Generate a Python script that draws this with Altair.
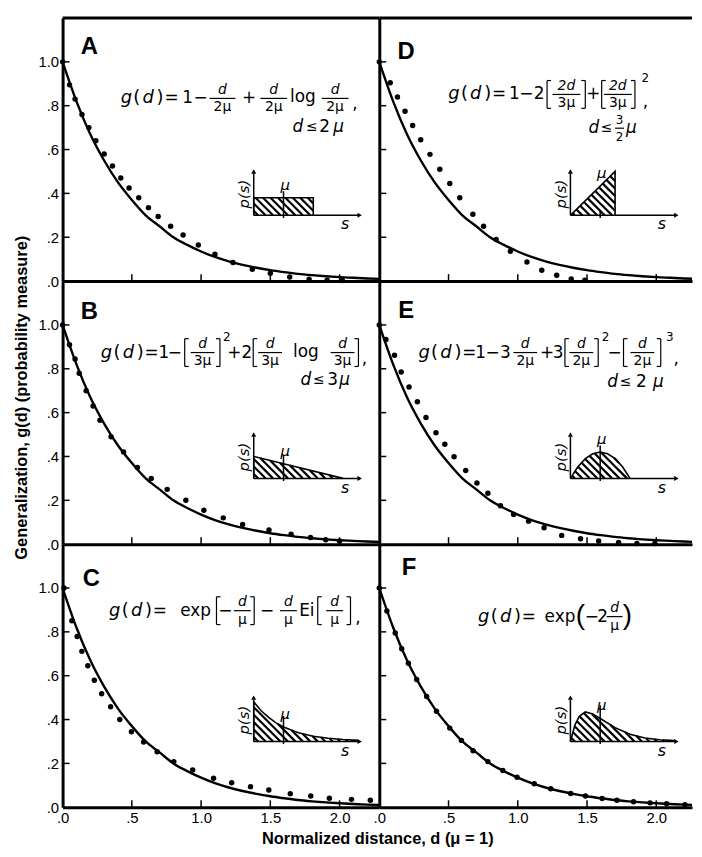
import altair as alt
import numpy as np
import pandas as pd

# ---------------- data ----------------
CURVE_D = [0.0, 0.1, 0.2, 0.3, 0.4, 0.5, 0.6, 0.7, 0.8, 0.9, 1.0, 1.1, 1.2, 1.3, 1.4, 1.5, 1.6, 1.7, 1.8, 1.9, 2.0, 2.1, 2.2, 2.3]
CURVE_G = [1.00, 0.82, 0.67, 0.55, 0.45, 0.37, 0.30, 0.25, 0.20, 0.165, 0.135, 0.11, 0.09, 0.074, 0.061, 0.05, 0.041, 0.033, 0.027, 0.022, 0.018, 0.015, 0.012, 0.010]

A_D = [0.0, 0.05, 0.09, 0.14, 0.19, 0.24, 0.30, 0.36, 0.42, 0.48, 0.55, 0.62, 0.69, 0.78, 0.87, 0.98, 1.10, 1.23, 1.37, 1.50, 1.64, 1.78, 1.91, 2.02]
A_G = [1.0, 0.895, 0.83, 0.76, 0.70, 0.64, 0.58, 0.525, 0.47, 0.425, 0.38, 0.335, 0.295, 0.25, 0.21, 0.165, 0.122, 0.085, 0.054, 0.036, 0.019, 0.009, 0.004, 0.003]

B_D = [0.0, 0.05, 0.09, 0.12, 0.17, 0.22, 0.27, 0.35, 0.44, 0.54, 0.64, 0.755, 0.89, 1.02, 1.16, 1.30, 1.49, 1.65, 1.79, 1.90, 2.00]
B_G = [1.0, 0.91, 0.845, 0.78, 0.70, 0.63, 0.565, 0.49, 0.42, 0.35, 0.30, 0.25, 0.20, 0.155, 0.12, 0.09, 0.065, 0.045, 0.03, 0.02, 0.015]

C_D = [0.01, 0.067, 0.105, 0.139, 0.182, 0.229, 0.282, 0.347, 0.413, 0.497, 0.585, 0.683, 0.803, 0.939, 1.09, 1.221, 1.357, 1.489, 1.644, 1.792, 1.926, 2.086, 2.222]
C_G = [1.0, 0.851, 0.779, 0.711, 0.645, 0.579, 0.518, 0.458, 0.40, 0.344, 0.298, 0.253, 0.208, 0.17, 0.132, 0.112, 0.094, 0.079, 0.062, 0.051, 0.041, 0.036, 0.032]

D_D = [0.0, 0.079, 0.131, 0.186, 0.241, 0.299, 0.366, 0.437, 0.509, 0.581, 0.676, 0.753, 0.844, 0.946, 1.066, 1.173, 1.281, 1.386, 1.484]
D_G = [1.0, 0.905, 0.84, 0.775, 0.71, 0.645, 0.578, 0.51, 0.445, 0.38, 0.305, 0.25, 0.19, 0.136, 0.087, 0.049, 0.027, 0.01, 0.004]

E_D = [0.0, 0.048, 0.11, 0.158, 0.215, 0.275, 0.337, 0.409, 0.473, 0.54, 0.624, 0.705, 0.784, 0.875, 0.97, 1.078, 1.19, 1.317, 1.453, 1.584, 1.728, 1.86, 1.99]
E_G = [1.0, 0.934, 0.862, 0.785, 0.717, 0.65, 0.578, 0.508, 0.456, 0.399, 0.336, 0.279, 0.232, 0.175, 0.135, 0.105, 0.075, 0.04, 0.025, 0.015, 0.008, 0.003, 0.003]

F_D = [0.0, 0.055, 0.115, 0.162, 0.21, 0.27, 0.342, 0.413, 0.509, 0.593, 0.677, 0.784, 0.892, 0.995, 1.119, 1.238, 1.382, 1.489, 1.609, 1.716, 1.836, 1.955, 2.075, 2.207]
F_G = [1.0, 0.895, 0.795, 0.723, 0.657, 0.583, 0.505, 0.438, 0.361, 0.305, 0.258, 0.208, 0.168, 0.137, 0.107, 0.084, 0.063, 0.051, 0.04, 0.032, 0.025, 0.02, 0.016, 0.012]

# inset distributions p(s): s in units of mu, heights in g-units
A_S = [0, 2];               A_P = [0.08, 0.08]
B_S = [0, 3];               B_P = [0.10, 0.0]
C_S = [0, 0.25, 0.5, 0.75, 1, 1.5, 2, 2.5, 3, 3.5]
C_P = [0.18, 0.14, 0.11, 0.085, 0.066, 0.04, 0.024, 0.015, 0.009, 0.005]
D_S = [0, 1.5];             D_P = [0.0, 0.20]
E_S = [0, 0.25, 0.5, 0.75, 1, 1.25, 1.5, 1.75, 2]
E_P = [0, 0.053, 0.09, 0.112, 0.12, 0.112, 0.09, 0.053, 0]
F_S = [0, 0.15, 0.3, 0.5, 0.75, 1, 1.5, 2, 2.5, 3, 3.5]
F_P = [0, 0.075, 0.115, 0.135, 0.125, 0.105, 0.063, 0.033, 0.016, 0.008, 0.004]

TICK_X = [0.5, 1.0, 1.5, 2.0]
TICK_Y = [0.2, 0.4, 0.6, 0.8, 1.0]
X_LABEL_VALUES = [0, 0.5, 1.0, 1.5, 2.0]
Y_LABEL_VALUES = [0, 0.2, 0.4, 0.6, 0.8, 1.0]
X_TITLE = "Normalized distance, d (\u03bc = 1)"
Y_TITLE = "Generalization, g(d) (probability measure)"

# ---------------- geometry / style ----------------
PXD = 139.5
H = 265
YMAX = 1.2
PXG = H / YMAX
W_LEFT = 319
W_RIGHT = 315
MU_D = 0.215
INSET_OX, INSET_OY = 1.38, 0.30
YS = alt.Scale(domain=[0, YMAX], nice=False, zero=False)
LABEL_FONT = "Liberation Sans"
MATH_FONT = "DejaVu Sans"
FS = 17      # main formula size
FR = 14      # fraction size


def T(kind, X, Y, text, size=FS):
    return {"kind": kind, "X": X, "Y": Y, "text": text, "size": size}


def gd(x0, y):
    return [T("i", x0 + 6.5, y, "g", 18), T("n", x0 + 17, y, "(", 18), T("i", x0 + 28.5, y, "d", 18),
            T("n", x0 + 40.5, y, ")", 18), T("n", x0 + 52, y, "=")]


def frac(xc, y, num, den, w, size=FR, num_kind="i"):
    return [T(num_kind, xc, y - 8.5, num, size), T("n", xc, y + 9, den, size),
            {"kind": "seg", "X": xc - w / 2, "Y": y, "X2": xc + w / 2, "Y2": y}]


def brk(xc, y, side, h=28, w=4):
    sgn = 1 if side == "[" else -1
    return [{"kind": "seg", "X": xc, "Y": y - h / 2, "X2": xc, "Y2": y + h / 2},
            {"kind": "seg", "X": xc, "Y": y - h / 2, "X2": xc + sgn * w, "Y2": y - h / 2},
            {"kind": "seg", "X": xc, "Y": y + h / 2, "X2": xc + sgn * w, "Y2": y + h / 2}]


M = "\u03bc"
MINUS = "\u2212"
LE = "\u2264"

FORM_A = (gd(121.7, 94) + [T("n", 190, 94, "1"), T("n", 203, 94, MINUS)]
          + frac(225, 94, "d", "2" + M, 26) + [T("n", 251.7, 94, "+")]
          + frac(276.7, 94, "d", "2" + M, 27) + [T("n", 306, 93, "log")]
          + frac(338.5, 94, "d", "2" + M, 27) + [T("n", 358.5, 100, ",")]
          + [T("i", 301, 123, "d"), T("n", 315, 123, LE, 14), T("n", 328, 123, "2"), T("i", 342, 123, M)])

FORM_D = (gd(451.7, 90) + [T("n", 519, 90, "1"), T("n", 531, 90, MINUS), T("n", 544, 90, "2")]
          + brk(552, 90, "[") + frac(571.5, 90, "2d", "3" + M, 28) + brk(590.5, 90, "]")
          + [T("n", 598.5, 90, "+")]
          + brk(607, 90, "[") + frac(623.3, 90, "2d", "3" + M, 28) + brk(640.5, 90, "]")
          + [T("n", 651, 73, "2", 12), T("n", 651, 98, ",")]
          + [T("i", 599, 124, "d"), T("n", 612, 124, LE, 14)] + frac(625, 124, "3", "2", 9, 12, "n")
          + [T("i", 637, 124, M)])

FORM_B = (gd(101.7, 350) + [T("n", 166, 350, "1"), T("n", 177, 350, MINUS)]
          + brk(187, 350, "[") + frac(205, 350, "d", "3" + M, 24) + brk(222.5, 350, "]")
          + [T("n", 229.5, 334, "2", 12), T("n", 237, 350, "+"), T("n", 249.5, 350, "2")]
          + brk(256, 350, "[") + frac(273, 350, "d", "3" + M, 24) + [T("n", 309, 349, "log")]
          + frac(346, 350, "d", "3" + M, 24) + brk(362, 350, "]") + [T("n", 368, 357, ",")]
          + [T("i", 309, 378, "d"), T("n", 322, 378, LE, 14), T("n", 336, 378, "3"), T("i", 348, 378, M)])

FORM_E = (gd(421.7, 350) + [T("n", 485, 350, "1"), T("n", 497, 350, MINUS), T("n", 510, 350, "3")]
          + frac(530, 350, "d", "2" + M, 24) + [T("n", 552, 350, "+"), T("n", 563, 350, "3")]
          + brk(570, 350, "[") + frac(586.5, 350, "d", "2" + M, 24) + brk(603.5, 350, "]")
          + [T("n", 611, 334, "2", 12), T("n", 620, 350, MINUS)]
          + brk(629, 350, "[") + frac(648, 350, "d", "2" + M, 24) + brk(666.5, 350, "]")
          + [T("n", 675.5, 334, "3", 12), T("n", 682, 357, ",")]
          + [T("i", 618, 380, "d"), T("n", 631, 380, LE, 14), T("n", 647, 380, "2"), T("i", 664, 380, M)])

FORM_C = (gd(110, 610) + [T("n", 198, 610, "exp")]
          + brk(219, 610, "[") + [T("n", 228, 610, MINUS)] + frac(245, 610, "d", M, 17) + brk(257, 610, "]")
          + [T("n", 270, 610, MINUS)]
          + frac(291.5, 610, "d", M, 17) + [T("n", 310, 610, "Ei")]
          + brk(321, 610, "[") + frac(338, 610, "d", M, 17) + brk(354, 610, "]")
          + [T("n", 361.5, 617, ",")])

FORM_F = (gd(481.7, 616) + [T("n", 565, 616, "exp"), T("b", 585.5, 615, "(", 28), T("n", 597, 616, MINUS),
                            T("n", 608, 616, "2")]
          + frac(620, 616, "d", M, 16) + [T("b", 633, 615, ")", 28)])

PANELS = [
    dict(name="A", W=W_LEFT, origin=(64, 13), dots=(A_D, A_G), inset=(A_S, A_P), letter=(91, 42),
         form=FORM_A, tick_extra=0.03, left=True, bottom=False, top=True, ytitle=False, xtitle=False),
    dict(name="D", W=W_RIGHT, origin=(383, 13), dots=(D_D, D_G), inset=(D_S, D_P), letter=(410, 47),
         form=FORM_D, tick_extra=-0.11, left=False, bottom=False, top=True, ytitle=False, xtitle=False),
    dict(name="B", W=W_LEFT, origin=(64, 278), dots=(B_D, B_G), inset=(B_S, B_P), letter=(91, 309),
         form=FORM_B, tick_extra=0.04, left=True, bottom=False, top=False, ytitle=True, xtitle=False),
    dict(name="E", W=W_RIGHT, origin=(383, 278), dots=(E_D, E_G), inset=(E_S, E_P), letter=(410, 308),
         form=FORM_E, tick_extra=0.03, left=False, bottom=False, top=False, ytitle=False, xtitle=False),
    dict(name="C", W=W_LEFT, origin=(64, 543), dots=(C_D, C_G), inset=(C_S, C_P), letter=(93, 578),
         form=FORM_C, tick_extra=0.05, left=True, bottom=True, top=False, ytitle=False, xtitle=True),
    dict(name="F", W=W_RIGHT, origin=(383, 543), dots=(F_D, F_G), inset=(F_S, F_P), letter=(413, 567),
         form=FORM_F, tick_extra=0.06, left=False, bottom=True, top=False, ytitle=False, xtitle=False),
]


def axis_x(bottom, with_title):
    kw = dict(values=X_LABEL_VALUES, grid=False, ticks=False, tickSize=0, domain=True,
              domainColor="black", domainWidth=3, labels=bottom, title=None)
    if bottom:
        kw.update(labelExpr="datum.value < 1 ? '.' + format(datum.value*10, 'd') : format(datum.value, '.1f')",
                  labelFont=LABEL_FONT, labelFontSize=15, labelPadding=3, labelColor="black",
                  labelFlush=False)
    if with_title:
        kw.update(title=X_TITLE, titleX=317, titleFont=LABEL_FONT, titleFontSize=16.5,
                  titleFontWeight="bold", titlePadding=6, titleColor="black")
    return alt.Axis(**kw)


def axis_y(left, with_title):
    kw = dict(values=Y_LABEL_VALUES, grid=False, ticks=False, tickSize=0, domain=True,
              domainColor="black", domainWidth=3, labels=left, title=None)
    if left:
        kw.update(labelExpr="datum.value < 1 ? '.' + format(datum.value*10, 'd') : '1.0'",
                  labelFont=LABEL_FONT, labelFontSize=15, labelPadding=4, labelColor="black")
    if with_title:
        kw.update(title=Y_TITLE, titleY=117, titleFont=LABEL_FONT, titleFontSize=16.5,
                  titleFontWeight="bold", titlePadding=9, titleColor="black")
    return alt.Axis(**kw)


def hatch_segments(s_pts, p_pts, spacing=7.5):
    X = np.array(s_pts, dtype=float) * MU_D * PXD
    Yt = np.array(p_pts, dtype=float) * PXG
    xmax, ymax = X[-1], Yt.max()
    segs = []
    c = spacing * 0.6
    xs_ = np.linspace(0, xmax, 800)
    top = np.interp(xs_, X, Yt)
    while c < xmax + ymax:
        ys_ = c - xs_
        inside = (ys_ >= 0) & (ys_ <= top)
        idx = np.where(inside)[0]
        if len(idx) > 1:
            runs = np.split(idx, np.where(np.diff(idx) > 1)[0] + 1)
            for r in runs:
                if len(r) < 2:
                    continue
                x0, x1 = xs_[r[0]], xs_[r[-1]]
                segs.append({"d": INSET_OX + x0 / PXD, "g": INSET_OY + (c - x0) / PXG,
                             "d2": INSET_OX + x1 / PXD, "g2": INSET_OY + (c - x1) / PXG})
        c += spacing
    return pd.DataFrame(segs)


def build_panel(p):
    W = p["W"]
    ox, oy = p["origin"]
    xs = alt.Scale(domain=[0, W / PXD], nice=False, zero=False)
    ax_x = axis_x(p["bottom"], p["xtitle"])
    ax_y = axis_y(p["left"], p["ytitle"])

    def X(f="d"):
        return alt.X(f + ":Q", scale=xs, axis=ax_x)

    def Y(f="g"):
        return alt.Y(f + ":Q", scale=YS, axis=ax_y)

    def text_layer(df, font, style=None, weight=None, angle=None):
        kw = dict(font=font, align="center", baseline="middle", color="black")
        if style:
            kw["fontStyle"] = style
        if weight:
            kw["fontWeight"] = weight
        if angle is not None:
            kw["angle"] = angle
        return alt.Chart(df).mark_text(**kw).encode(
            x=X(), y=Y(), text="text:N", size=alt.Size("size:Q", scale=None, legend=None))

    layers = []
    # main curve
    layers.append(alt.Chart(pd.DataFrame({"d": CURVE_D, "g": CURVE_G})).mark_line(
        color="black", strokeWidth=2.4, interpolate="monotone", clip=True).encode(x=X(), y=Y()))
    # dots
    dd, dg = p["dots"]
    layers.append(alt.Chart(pd.DataFrame({"d": dd, "g": dg})).mark_circle(
        size=30, color="black", opacity=1).encode(x=X(), y=Y()))
    # inward ticks
    layers.append(alt.Chart(pd.DataFrame({"d": TICK_X})).mark_rule(color="black", strokeWidth=1.5).encode(
        x=X(), y=alt.value(H), y2=alt.value(H - 7)))
    layers.append(alt.Chart(pd.DataFrame({"g": TICK_Y})).mark_rule(color="black", strokeWidth=1.5).encode(
        y=Y(), x=alt.value(0), x2=alt.value(7)))
    if p["top"]:
        layers.append(alt.Chart(pd.DataFrame({"k": [0]})).mark_rule(color="black", strokeWidth=3).encode(
            x=alt.value(0), x2=alt.value(W), y=alt.value(0)))

    # ---- inset ----
    s_pts, p_pts = p["inset"]
    hdf = hatch_segments(s_pts, p_pts)
    if len(hdf):
        layers.append(alt.Chart(hdf).mark_rule(color="black", strokeWidth=2.2).encode(
            x=X(), y=Y(), x2="d2:Q", y2="g2:Q"))
    pts = []
    if p_pts[0] > 0:
        pts.append((0.0, 0.0))
    pts += list(zip(s_pts, p_pts))
    if p_pts[-1] > 0.02:
        pts.append((s_pts[-1], 0.0))
    odf = pd.DataFrame({"d": [INSET_OX + s * MU_D for s, _ in pts],
                        "g": [INSET_OY + v for _, v in pts],
                        "i": list(range(len(pts)))})
    layers.append(alt.Chart(odf).mark_line(color="black", strokeWidth=1.6).encode(
        x=X(), y=Y(), order="i:Q"))
    h_mu = float(np.interp(1.0, s_pts, p_pts))
    adf = pd.DataFrame([
        {"d": INSET_OX, "g": INSET_OY, "d2": INSET_OX, "g2": INSET_OY + 0.19},
        {"d": INSET_OX, "g": INSET_OY, "d2": INSET_OX + 0.755, "g2": INSET_OY},
        {"d": INSET_OX + MU_D, "g": INSET_OY - 0.012, "d2": INSET_OX + MU_D,
         "g2": INSET_OY + h_mu + p["tick_extra"]},
    ])
    layers.append(alt.Chart(adf).mark_rule(color="black", strokeWidth=1.5).encode(
        x=X(), y=Y(), x2="d2:Q", y2="g2:Q"))
    layers.append(alt.Chart(pd.DataFrame({"d": [INSET_OX], "g": [INSET_OY + 0.2]})).mark_point(
        shape="triangle-up", size=26, filled=True, color="black", opacity=1).encode(x=X(), y=Y()))
    layers.append(alt.Chart(pd.DataFrame({"d": [INSET_OX + 0.765], "g": [INSET_OY]})).mark_point(
        shape="triangle-right", size=26, filled=True, color="black", opacity=1).encode(x=X(), y=Y()))
    ilab = pd.DataFrame([
        {"d": INSET_OX + MU_D + 0.012, "g": INSET_OY + h_mu + 0.06, "text": M, "size": 15},
        {"d": INSET_OX + 0.66, "g": INSET_OY - 0.042, "text": "s", "size": 16},
    ])
    layers.append(text_layer(ilab, MATH_FONT, style="italic"))
    layers.append(text_layer(pd.DataFrame([{"d": INSET_OX - 0.068, "g": INSET_OY + 0.097,
                                            "text": "p(s)", "size": 15}]),
                             MATH_FONT, style="italic", angle=270))

    # ---- formula ----
    rows, segs = [], []
    for t in p["form"]:
        if t["kind"] == "seg":
            segs.append({"d": (t["X"] - ox) / PXD, "d2": (t["X2"] - ox) / PXD,
                         "g": YMAX - (t["Y"] - oy) / PXG, "g2": YMAX - (t["Y2"] - oy) / PXG})
        else:
            rows.append({"kind": t["kind"], "d": (t["X"] - ox) / PXD,
                         "g": YMAX - (t["Y"] - oy) / PXG, "text": t["text"], "size": t["size"]})
    fdf = pd.DataFrame(rows)
    for kind, font, style in (("n", MATH_FONT, None), ("i", MATH_FONT, "italic"), ("b", LABEL_FONT, None)):
        sub = fdf[fdf["kind"] == kind].drop(columns=["kind"])
        if len(sub):
            layers.append(text_layer(sub, font, style=style))
    if segs:
        layers.append(alt.Chart(pd.DataFrame(segs)).mark_rule(color="black", strokeWidth=1.2).encode(
            x=X(), x2="d2:Q", y=Y(), y2="g2:Q"))

    # panel letter
    lx, ly = p["letter"]
    layers.append(text_layer(pd.DataFrame([{"d": (lx - ox) / PXD, "g": YMAX - (ly - oy) / PXG,
                                            "text": p["name"], "size": 24}]),
                             LABEL_FONT, weight="bold"))

    return alt.layer(*layers).properties(width=W, height=H)


chart = alt.concat(*[build_panel(p) for p in PANELS], columns=2, spacing=0, bounds="flush").properties(
    padding={"left": 5, "top": 5, "right": 0, "bottom": 0}
).configure_view(stroke=None)

chart.save("out.html", embed_options={"renderer": "svg", "actions": False})
